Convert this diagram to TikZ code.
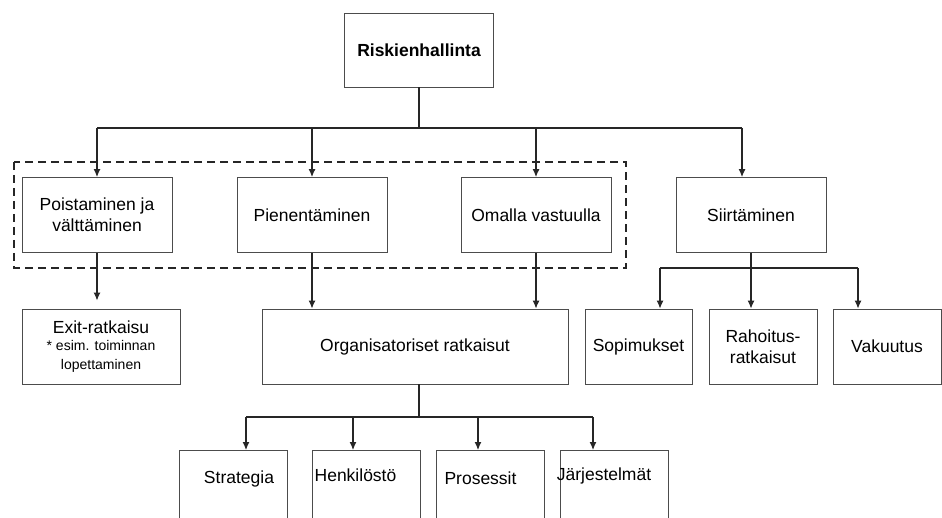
\documentclass[tikz,border=0pt]{standalone}
\usepackage{fontspec}
\setmainfont{Liberation Sans}
\usetikzlibrary{arrows.meta}
\usetikzlibrary{calc}
\newcommand{\smalltext}{\fontsize{14}{17}\selectfont}
\tikzset{
    boxnode/.style = {align=center, inner sep=0pt, text centered},
    main_node/.style = {boxnode, rectangle, draw=black!70, line width=0.9pt, fill=white, font=\fontsize{17.5}{21}\selectfont},
    top_node/.style = {main_node, font=\fontsize{17.5}{21}\selectfont\bfseries},
    wide_node/.style = {main_node, minimum width=#1, minimum height=75pt},
    low_node/.style = {main_node, anchor=north, minimum width=108pt, minimum height=100pt},
    low_text/.style = {anchor=center, yshift=-28.5pt, font=\fontsize{17.5}{21}\selectfont},
    group_box/.style = {draw=black!85, line width=1.8pt, dash pattern=on 8pt off 5pt},
    link/.style = {draw=black!85, line width=1.1pt},
    arrow_link/.style = {link, -{Latex[length=8pt, width=7pt]}}
}

\begin{document}
\begin{tikzpicture}[x=1pt, y=-1pt]
    \path [use as bounding box, clip] (0,0) rectangle (942,518);

    % dashed group round the first three
    \draw [group_box] (14,162) rectangle (626,268);

    % top
    \node [top_node, minimum width=149pt, minimum height=74pt] (risk) at (419,50) {Riskienhallinta};

    % level 1
    \node [wide_node=150pt] (poist) at (97,215) {Poistaminen ja\\välttäminen};
    \node [wide_node=150pt] (pien) at (312,215) {Pienentäminen};
    \node [wide_node=150pt] (omalla) at (536,215) {Omalla vastuulla};
    \node [wide_node=150pt] (siirt) at (751,215) {Siirtäminen};

    % level 2
    \node [wide_node=158pt] (exit) at (101,346.5) {Exit-ratkaisu\\[-4pt]\smalltext * esim. toiminnan\\[-2pt]\smalltext lopettaminen};
    \node [wide_node=306pt] (org) at (415,346.5) {Organisatoriset ratkaisut};
    \node [wide_node=107pt] (sopim) at (638.5,346.5) {Sopimukset};
    \node [wide_node=108pt] (rahoit) at (763,346.5) {Rahoitus-\\ratkaisut};
    \node [wide_node=108pt] (vakuut) at (887,346.5) {Vakuutus};

    % level 3
    \node [low_node, label={[low_text, xshift=6pt]north:Strategia}] (strat) at (233,450) {};
    \node [low_node, label={[low_text, xshift=-10.5pt, yshift=3pt]north:Henkilöstö}] (henk) at (366,450) {};
    \node [low_node, label={[low_text, xshift=-9.5pt]north:Prosessit}] (pros) at (490,450) {};
    \node [low_node, label={[low_text, xshift=-10pt, yshift=3pt]north:Järjestelmät}] (jarj) at (614,450) {};

    % connectors from the top
    \coordinate (bar1) at (419,128);
    \coordinate (siirt_in) at ($(siirt.north)+(-9,0)$);
    \draw [link] (risk.south) -- (bar1);
    \draw [link] (bar1 -| poist.north) -- (bar1 -| siirt_in);
    \foreach \n in {poist, pien, omalla}
        \draw [arrow_link] (bar1 -| \n.north) -- (\n.north);
    \draw [arrow_link] (bar1 -| siirt_in) -- (siirt_in);

    % level 1 to level 2
    \draw [arrow_link, shorten >=8pt] (poist.south) -- (poist.south |- exit.north);
    \draw [arrow_link] (pien.south) -- (pien.south |- org.north);
    \draw [arrow_link] (omalla.south) -- (omalla.south |- org.north);

    \coordinate (bar3) at (751,268);
    \foreach \n/\dx in {sopim/21.5, rahoit/-12, vakuut/-29}
        \coordinate (\n_in) at ($(\n.north)+(\dx,0)$);
    \draw [link] (siirt.south) -- (bar3);
    \draw [link] (bar3 -| sopim_in) -- (bar3 -| vakuut_in);
    \foreach \n in {sopim, rahoit, vakuut}
        \draw [arrow_link] (bar3 -| \n_in) -- (\n_in);

    % organisation to level 3
    \coordinate (bar2) at (419,417);
    \foreach \n/\dx in {strat/13, henk/-13, pros/-12, jarj/-21}
        \coordinate (\n_in) at ($(\n.north)+(\dx,0)$);
    \draw [link] (org.south -| bar2) -- (bar2);
    \draw [link] (bar2 -| strat_in) -- (bar2 -| jarj_in);
    \foreach \n in {strat, henk, pros, jarj}
        \draw [arrow_link] (bar2 -| \n_in) -- (\n_in);
\end{tikzpicture}
\end{document}
